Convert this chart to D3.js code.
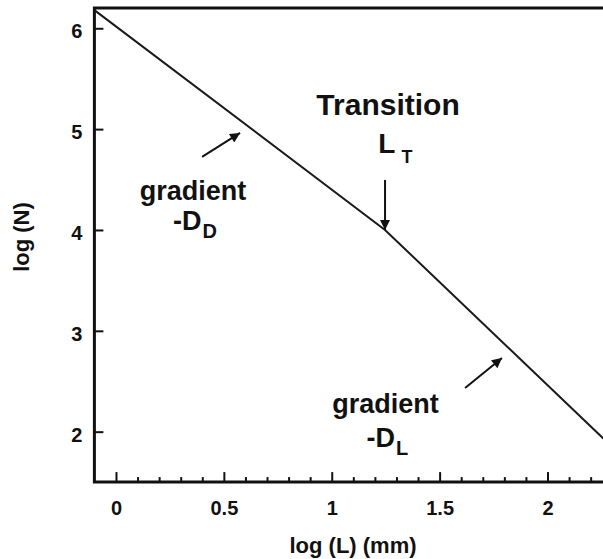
<!DOCTYPE html>
<html><head><meta charset="utf-8">
<script src="https://cdn.jsdelivr.net/npm/d3@7"></script>
<style>body{margin:0;background:#fff}svg{display:block}</style>
</head><body><svg id="c" width="603" height="559"></svg>
<script>
// ---- data ----
const lineX = [-0.1, 1.247, 2.26];
const lineY = [6.18, 4.0, 1.93];
const xMajorTicks = [0, 0.5, 1, 1.5, 2];
const xTickLabels = ["0", "0.5", "1", "1.5", "2"];
const xMinorTicks = [0.1, 0.2, 0.3, 0.4, 0.6, 0.7, 0.8, 0.9, 1.1, 1.2, 1.3, 1.4, 1.6, 1.7, 1.8, 1.9, 2.1, 2.2];
const yTicks = [2, 3, 4, 5, 6];
const yTickLabels = ["2", "3", "4", "5", "6"];
const xDomain = [-0.1, 2.26];
const yDomain = [1.5, 6.2];
const xTitle = "log (L) (mm)";
const yTitle = "log (N)";
// annotations (data coordinates)
const annoMain = ["gradient", "-D", "Transition", "L", "gradient", "-D"];
const annoSub  = ["", "D", "", "T", "", "L"];
const annoX    = [0.357, 0.366, 1.261, 1.295, 1.249, 1.258];
const annoY    = [4.297, 4.0, 5.14, 4.764, 2.185, 1.848];
const annoSize = [27, 27, 30, 28, 27, 27];
const arrowFromX = [0.399, 1.247, 1.618];
const arrowFromY = [4.724, 4.496, 2.434];
const arrowToX   = [0.575, 1.247, 1.789];
const arrowToY   = [4.962, 4.0, 2.731];

// ---- chart ----
const svg = d3.select("#c");
const x = d3.scaleLinear().domain(xDomain).range([94.4, 603.6]);
const y = d3.scaleLinear().domain(yDomain).range([482.1, 8.1]);
const font = "'Liberation Sans', Arial, Helvetica, sans-serif";
const ink = "#111";

// minor x ticks
svg.append("g").attr("transform", `translate(0,${y(yDomain[0])})`)
  .call(d3.axisBottom(x).tickValues(xMinorTicks).tickSize(-5).tickSizeOuter(0).tickFormat(""))
  .call(g => g.select(".domain").remove())
  .call(g => g.selectAll("line").attr("stroke", ink).attr("stroke-width", 2));

// major x ticks
svg.append("g").attr("transform", `translate(0,${y(yDomain[0])})`)
  .call(d3.axisBottom(x).tickValues(xMajorTicks).tickSize(-10).tickSizeOuter(0).tickPadding(19)
        .tickFormat((d, i) => xTickLabels[i]))
  .call(g => g.select(".domain").remove())
  .call(g => g.selectAll("line").attr("stroke", ink).attr("stroke-width", 2))
  .call(g => g.selectAll("text").attr("fill", ink).style("font", `bold 20px ${font}`));

// y ticks
svg.append("g").attr("transform", `translate(${x(xDomain[0])},0)`)
  .call(d3.axisLeft(y).tickValues(yTicks).tickSize(-9).tickSizeOuter(0).tickPadding(12)
        .tickFormat((d, i) => yTickLabels[i]))
  .call(g => g.select(".domain").remove())
  .call(g => g.selectAll("line").attr("stroke", ink).attr("stroke-width", 2))
  .call(g => g.selectAll("text").attr("fill", ink).attr("dy", "0.48em").style("font", `bold 20px ${font}`));

// frame: left, bottom, top
const x0 = x(xDomain[0]), x1 = x(xDomain[1]), yb = y(yDomain[0]), yt = y(yDomain[1]);
svg.append("path")
  .attr("d", `M${x1},${yt}H${x0}V${yb}H${x1}`)
  .attr("fill", "none").attr("stroke", ink).attr("stroke-width", 3);

// the line
const pts = lineX.map((v, i) => [v, lineY[i]]);
svg.append("path")
  .datum(pts)
  .attr("d", d3.line().x(d => x(d[0])).y(d => y(d[1])))
  .attr("fill", "none").attr("stroke", "#1a1a1a").attr("stroke-width", 2);

// arrows
const defs = svg.append("defs");
defs.append("marker").attr("id", "ah").attr("viewBox", "0 0 10 10")
  .attr("refX", 10).attr("refY", 5).attr("markerWidth", 16).attr("markerHeight", 10)
  .attr("markerUnits", "userSpaceOnUse").attr("orient", "auto")
  .append("path").attr("d", "M0,0L10,5L0,10z").attr("fill", ink);
arrowFromX.forEach((v, i) => {
  svg.append("line")
    .attr("x1", x(v)).attr("y1", y(arrowFromY[i]))
    .attr("x2", x(arrowToX[i])).attr("y2", y(arrowToY[i]))
    .attr("stroke", ink).attr("stroke-width", 2).attr("marker-end", "url(#ah)");
});

// annotation texts
annoMain.forEach((t, i) => {
  const tx = svg.append("text")
    .attr("x", x(annoX[i])).attr("y", y(annoY[i]))
    .attr("text-anchor", "middle").attr("fill", ink)
    .style("font", `bold ${annoSize[i]}px ${font}`);
  tx.append("tspan").text(t);
  if (annoSub[i]) {
    tx.append("tspan").attr("dx", i === 3 ? 6 : 1).attr("dy", i === 3 ? 10 : 8)
      .style("font-size", (i === 3 ? 18 : 20) + "px").text(annoSub[i]);
  }
});

// axis titles
svg.append("text").attr("x", 353).attr("y", 553).attr("text-anchor", "middle")
  .attr("fill", ink).style("font", `bold 22px ${font}`).text(xTitle);
svg.append("text").attr("transform", "translate(29,237) rotate(-90)").attr("text-anchor", "middle")
  .attr("fill", ink).style("font", `bold 22px ${font}`).text(yTitle);
</script>
</body></html>
